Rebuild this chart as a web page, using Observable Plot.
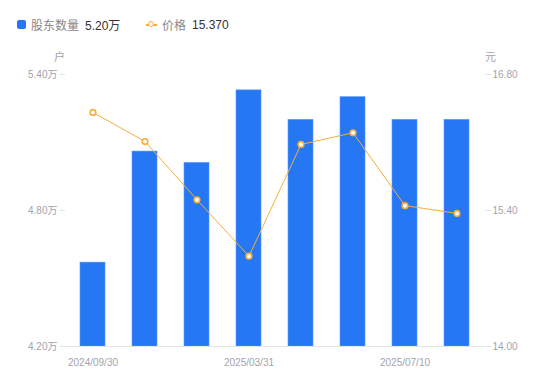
<!DOCTYPE html>
<html>
<head>
<meta charset="utf-8">
<script src="https://cdn.jsdelivr.net/npm/d3@7"></script>
<script src="https://cdn.jsdelivr.net/npm/@observablehq/plot@0.6"></script>
<style>
  html, body { margin: 0; padding: 0; background: #fff; }
  body { width: 550px; height: 381px; overflow: hidden; font-family: "Liberation Sans", "Noto Sans CJK SC", sans-serif; }
  #legend { height: 48px; position: relative; font-size: 12px; }
  .item { position: absolute; top: 17px; display: flex; align-items: center; height: 15px; white-space: nowrap; }
  .name { color: #888; margin-right: 6px; }
  .val { color: #333; }
  .sq { width: 9px; height: 9px; background: #2677F4; border-radius: 2px; margin-right: 5px; }
  .mk { position: relative; width: 11px; height: 9px; margin-right: 5px; }
  .mk::before { content: ""; position: absolute; left: 0; right: 0; top: 4px; height: 1.5px; background: #F8AD3C; }
  .mk::after { content: ""; position: absolute; left: 2px; top: 1px; width: 4px; height: 4px; border: 1.5px solid #F8AD3C; border-radius: 50%; background: #fff; }
</style>
</head>
<body>
<div id="legend">
  <div class="item" style="left:17px"><div class="sq"></div><span class="name">股东数量</span><span class="val">5.20万</span></div>
  <div class="item" style="left:146px"><div class="mk"></div><span class="name">价格</span><span class="val">15.370</span></div>
</div>
<div id="chart"></div>
<script>
const dates = ["2024/09/30", "2024/12/31", "2025/02/28", "2025/03/31", "2025/04/30", "2025/06/30", "2025/07/10", "2025/07/31"];
const holders = [4.57, 5.06, 5.01, 5.33, 5.20, 5.30, 5.20, 5.20]; // 万户
const prices = [16.41, 16.11, 15.51, 14.93, 16.08, 16.20, 15.45, 15.37]; // 元
const leftTicks = [4.20, 4.80, 5.40];
const rightTicks = [14.00, 15.40, 16.80];
const xTickLabels = [dates[0], dates[3], dates[6]];

const leftDomain = [4.20, 5.40];
const rightDomain = [14.00, 16.80];
const toLeft = d3.scaleLinear().domain(rightDomain).range(leftDomain);

const data = dates.map((d, i) => ({date: d, holders: holders[i], price: prices[i]}));

const gray = "#a3a3ad";
const axisLine = "#e3e3e3";

const chart = Plot.plot({
  width: 550,
  height: 333,
  marginTop: 26,
  marginBottom: 35,
  marginLeft: 65,
  marginRight: 66,
  style: {fontFamily: "'Liberation Sans', 'Noto Sans CJK SC', sans-serif", fontSize: "10px", background: "#fff"},
  x: {domain: dates, paddingInner: 0.52, paddingOuter: 0.26},
  y: {domain: leftDomain},
  marks: [
    Plot.barY(data, {x: "date", y1: leftDomain[0], y2: "holders", fill: "#2677F4", stroke: "#5a98f7", strokeWidth: 0.6}),
    Plot.ruleX([0], {frameAnchor: "left", stroke: axisLine}),
    Plot.ruleX([0], {frameAnchor: "right", stroke: axisLine}),
    Plot.ruleY([leftDomain[0]], {stroke: axisLine}),
    Plot.axisY({anchor: "left", ticks: leftTicks, tickSize: 5, tickPadding: 3, stroke: axisLine, color: gray,
      tickFormat: d => d.toFixed(2) + "万", label: null}),
    Plot.axisY({anchor: "right", ticks: rightTicks.map(toLeft), tickSize: 6, tickPadding: 2, stroke: axisLine, color: gray,
      tickFormat: d => toLeft.invert(d).toFixed(2), label: null}),
    Plot.axisX({ticks: xTickLabels, tickSize: 0, tickPadding: 12, color: gray, label: null}),
    Plot.line(data, {x: "date", y: d => toLeft(d.price), stroke: "#F8AD3C", strokeWidth: 1}),
    Plot.dot(data, {x: "date", y: d => toLeft(d.price), r: 2.8, fill: "#fff", stroke: "#F8AD3C", strokeWidth: 1.6}),
    Plot.text(["户"], {frameAnchor: "top-left", dx: -6, dy: -17, fill: gray, fontSize: 11, textAnchor: "middle", lineAnchor: "middle"}),
    Plot.text(["元"], {frameAnchor: "top-right", dx: 6, dy: -17, fill: gray, fontSize: 11, textAnchor: "middle", lineAnchor: "middle"})
  ]
});
document.getElementById("chart").appendChild(chart);
</script>
</body>
</html>
